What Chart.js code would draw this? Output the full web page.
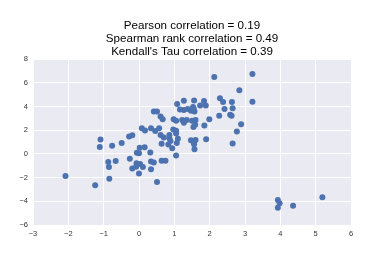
<!DOCTYPE html>
<html>
<head>
<meta charset="utf-8">
<script src="https://cdn.jsdelivr.net/npm/chart.js@4"></script>
<style>
  body { margin: 0; background: #fff; }
  canvas { display: block; }
</style>
</head>
<body>
<canvas id="myChart" width="374" height="257"></canvas>
<script>
// values
const xValues = [-2.08, -1.24, -1.09, -1.11, -0.76, -0.49, -0.28, -0.19, -0.87, -0.85,
  -0.84, -0.66, -0.26, -0.19, -0.07, 0.03, 0.11, -0.08, 0.00, -0.06,
  0.00, 0.02, 0.16, 0.32, 0.34, 0.42, 0.34, 0.51, 0.64, 0.75,
  0.64, 0.83, 0.89, 0.94, 1.05, 1.07, 1.10, 0.86, 0.86, 1.05,
  0.97, 1.05, 0.08, 0.17, 0.34, 0.46, 0.57, 0.61, 0.70, 0.42,
  0.51, 0.61, 0.67, 0.98, 1.05, 1.08, 1.16, 1.27, 1.27, 1.38,
  1.47, 1.55, 1.57, 1.53, 1.73, 1.84, 1.89, 1.56, 1.22, 1.27,
  1.35, 1.50, 1.60, 1.54, 1.59, 1.85, 1.99, 1.47, 1.54, 1.60,
  1.56, 1.57, 1.90, 2.13, 3.21, 2.84, 3.21, 2.29, 2.38, 2.63,
  2.65, 2.42, 2.27, 2.58, 2.62, 2.89, 2.77, 2.65, 3.93, 3.98,
  3.93, 4.36, 5.19];
const yValues = [-1.86, -2.65, 1.21, 0.59, 0.68, 0.92, 1.46, 1.58, -0.68, -1.10,
  -2.09, -0.59, -0.42, -1.24, -0.79, -0.86, -1.10, -1.08, -1.66, 0.10,
  0.05, 0.51, 0.56, 0.11, -0.65, -0.73, -1.30, -2.37, -0.58, -0.58,
  0.85, 0.80, 1.08, 0.48, -0.14, 0.92, 1.27, 1.33, 1.60, 1.72,
  2.05, 1.95, 2.17, 1.97, 2.17, 1.94, 2.17, 1.60, 1.38, 3.58,
  3.58, 3.15, 2.93, 2.93, 2.79, 4.20, 3.75, 3.70, 4.48, 3.78,
  3.63, 3.80, 3.58, 3.95, 4.08, 4.46, 4.08, 4.50, 2.87, 2.62,
  2.87, 2.79, 2.87, 2.26, 2.45, 2.39, 2.93, 1.15, 1.00, 1.18,
  0.82, 0.40, 1.24, 6.48, 6.74, 5.38, 4.40, 4.70, 4.37, 4.37,
  3.86, 3.78, 3.21, 3.30, 3.21, 2.51, 1.89, 0.87, -3.89, -4.17,
  -4.54, -4.37, -3.66];
const titleLines = ['Pearson correlation = 0.19', 'Spearman rank correlation = 0.49', "Kendall's Tau correlation = 0.39"];

const points = xValues.map((x, i) => ({ x: x, y: yValues[i] }));

const minusLabel = v => v < 0 ? '\u2212' + Math.abs(v) : String(v);

// grey plot background like seaborn darkgrid
const areaBg = {
  id: 'areaBg',
  beforeDraw(chart) {
    const { ctx, chartArea: a } = chart;
    ctx.save();
    ctx.fillStyle = '#EAEAF2';
    ctx.fillRect(a.left, a.top, a.right - a.left, a.bottom - a.top);
    ctx.restore();
  }
};

const tickFont = { family: "'Liberation Sans', Arial, sans-serif", size: 7.5 };

const config = {
  type: 'scatter',
  data: {
    datasets: [{
      data: points,
      backgroundColor: '#4C72B0',
      borderWidth: 0,
      pointRadius: 3,
    }]
  },
  options: {
    responsive: false,
    animation: false,
    layout: { padding: { left: 0, right: 23, top: 0, bottom: 0 } },
    plugins: {
      legend: { display: false },
      tooltip: { enabled: false },
      title: {
        display: true,
        fullSize: false,
        text: titleLines,
        color: '#000',
        font: { family: "'Liberation Sans', Arial, sans-serif", size: 11.6, weight: 'normal', lineHeight: 1.08 },
        padding: { top: 20, bottom: 1.5 }
      }
    },
    scales: {
      x: {
        min: -3, max: 6,
        afterFit(scale) { scale.height = 32; },
        ticks: { stepSize: 1, color: '#333', font: tickFont, padding: 4, callback: minusLabel },
        grid: { color: '#fff', lineWidth: 1, drawTicks: false },
        border: { display: false }
      },
      y: {
        min: -6, max: 8,
        afterFit(scale) { scale.width = 33; },
        ticks: { stepSize: 2, color: '#333', font: tickFont, padding: 5, callback: minusLabel },
        grid: { color: '#fff', lineWidth: 1, drawTicks: false },
        border: { display: false }
      }
    }
  },
  plugins: [areaBg]
};

var myChart = new Chart(document.getElementById('myChart'), config);
</script>
</body>
</html>
